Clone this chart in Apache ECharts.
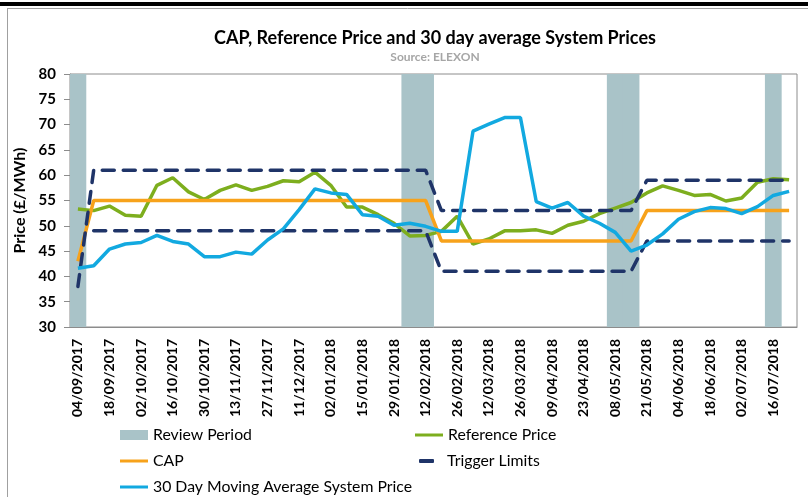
<!DOCTYPE html>
<html>
<head>
<meta charset="utf-8">
<title>CAP, Reference Price and 30 day average System Prices</title>
<script src="https://cdn.jsdelivr.net/npm/echarts@6/dist/echarts.min.js"></script>
<style>
    html, body {margin: 0; padding: 0; background: #fff;}
    #chartContainer {width: 808px; height: 497px;}
</style>
</head>
<body>
<div id="chartContainer"></div>
<script>
// weekly dates (every other one is labelled)
var dates = ["04/09/2017", "11/09/2017", "18/09/2017", "25/09/2017", "02/10/2017", "09/10/2017",
    "16/10/2017", "23/10/2017", "30/10/2017", "06/11/2017", "13/11/2017", "20/11/2017",
    "27/11/2017", "04/12/2017", "11/12/2017", "18/12/2017", "02/01/2018", "08/01/2018",
    "15/01/2018", "22/01/2018", "29/01/2018", "05/02/2018", "12/02/2018", "19/02/2018",
    "26/02/2018", "05/03/2018", "12/03/2018", "19/03/2018", "26/03/2018", "03/04/2018",
    "09/04/2018", "16/04/2018", "23/04/2018", "30/04/2018", "08/05/2018", "14/05/2018",
    "21/05/2018", "29/05/2018", "04/06/2018", "11/06/2018", "18/06/2018", "25/06/2018",
    "02/07/2018", "09/07/2018", "16/07/2018", "23/07/2018"];

var reviewPeriod = [80, null, null, null, null, null, null, null, null, null, null, null,
    null, null, null, null, null, null, null, null, null, 80, 80, null,
    null, null, null, null, null, null, null, null, null, null, 80, 80,
    null, null, null, null, null, null, null, null, 80, null];

var referencePrice = [53.3, 53.0, 53.9, 52.1, 51.9, 58.0, 59.5, 56.7, 55.2, 57.0, 58.1, 57.0,
    57.8, 58.9, 58.7, 60.6, 58.0, 53.7, 53.7, 52.2, 50.5, 48.0, 48.1, 48.9,
    51.9, 46.4, 47.4, 49.0, 49.0, 49.2, 48.5, 50.1, 50.9, 52.4, 53.5, 54.6,
    56.5, 57.9, 57.0, 56.0, 56.2, 54.9, 55.5, 58.6, 59.3, 59.1];

var cap = [43, 55, 55, 55, 55, 55, 55, 55, 55, 55, 55, 55,
    55, 55, 55, 55, 55, 55, 55, 55, 55, 55, 55, 47,
    47, 47, 47, 47, 47, 47, 47, 47, 47, 47, 47, 47,
    53, 53, 53, 53, 53, 53, 53, 53, 53, 53];

var triggerUpper = [38, 61, 61, 61, 61, 61, 61, 61, 61, 61, 61, 61,
    61, 61, 61, 61, 61, 61, 61, 61, 61, 61, 61, 53,
    53, 53, 53, 53, 53, 53, 53, 53, 53, 53, 53, 53,
    59, 59, 59, 59, 59, 59, 59, 59, 59, 59];

var triggerLower = [null, 49, 49, 49, 49, 49, 49, 49, 49, 49, 49, 49,
    49, 49, 49, 49, 49, 49, 49, 49, 49, 49, 49, 41,
    41, 41, 41, 41, 41, 41, 41, 41, 41, 41, 41, 41,
    47, 47, 47, 47, 47, 47, 47, 47, 47, 47];

var systemPrice = [41.6, 42.1, 45.4, 46.4, 46.7, 48.1, 46.9, 46.4, 43.9, 43.9, 44.8, 44.4,
    47.2, 49.4, 53.2, 57.3, 56.5, 56.2, 52.2, 51.9, 50.1, 50.5, 49.9, 48.9,
    48.9, 68.7, 70.1, 71.4, 71.4, 54.8, 53.5, 54.6, 51.9, 50.5, 48.7, 45.0,
    46.2, 48.4, 51.3, 52.8, 53.6, 53.4, 52.4, 53.8, 56.0, 56.8];

var fontName = "Lato, 'Open Sans', sans-serif";
var lineW = 3.5;

var priceChart = echarts.init(document.getElementById("chartContainer"));

// one legend box per item, so they sit in two columns like the original
function legendItem(name, left, top, icon, w, h, fmt) {
    return {
        left: left,
        top: top,
        icon: icon,
        itemWidth: w,
        itemHeight: h,
        formatter: fmt || "{name}",
        textStyle: {fontFamily: fontName, fontSize: 15.8, color: "#000"},
        data: [name]
    };
}

var option = {
    animation: false,
    backgroundColor: "#fff",
    textStyle: {fontFamily: fontName},
    title: {
        text: "CAP, Reference Price and 30 day average System Prices",
        subtext: "Source: ELEXON",
        left: 430,
        textAlign: "center",
        top: 24,
        itemGap: 4,
        textStyle: {fontFamily: fontName, fontSize: 18, fontWeight: "bold", color: "#000"},
        subtextStyle: {fontFamily: fontName, fontSize: 12, fontWeight: "bold", color: "#a6a6a6"}
    },
    // frame lines round the chart
    graphic: [
        {type: "rect", shape: {x: 0, y: 2, width: 808, height: 4}, style: {fill: "#000"}, silent: true},
        {type: "line", shape: {x1: 7, y1: 8.5, x2: 808, y2: 8.5}, style: {stroke: "#a0a0a0", lineWidth: 1}, silent: true},
        {type: "line", shape: {x1: 7.5, y1: 8, x2: 7.5, y2: 497}, style: {stroke: "#a0a0a0", lineWidth: 1}, silent: true}
    ],
    legend: [
        legendItem("Review Period", 115, 422, "rect", 28, 10),
        legendItem("CAP", 115, 448, "rect", 28, 3),
        legendItem("30 Day Moving Average System Price", 115, 474, "rect", 28, 3),
        legendItem("Reference Price", 410, 422, "rect", 28, 3),
        legendItem("Trigger Limits", 414, 448, "roundRect", 15, 4, "  {name}")
    ],
    grid: {
        left: 70,
        right: 11,
        top: 74,
        bottom: 170,
        show: true,
        borderColor: "#8c8c8c",
        borderWidth: 1
    },
    xAxis: {
        type: "category",
        data: dates,
        boundaryGap: true,
        axisLine: {lineStyle: {color: "#8c8c8c", width: 1}},
        axisTick: {interval: 0, length: 5, lineStyle: {color: "#8c8c8c"}},
        axisLabel: {
            interval: 1,
            rotate: 90,
            margin: 12,
            fontFamily: fontName,
            fontSize: 14,
            fontWeight: "bold",
            color: "#000"
        }
    },
    yAxis: {
        type: "value",
        min: 30,
        max: 80,
        interval: 5,
        name: "Price (£/MWh)",
        nameLocation: "middle",
        nameGap: 38,
        nameTextStyle: {fontFamily: fontName, fontSize: 16, fontWeight: "bold", color: "#000"},
        splitLine: {show: false},
        axisLine: {show: true, lineStyle: {color: "#8c8c8c", width: 1}},
        axisTick: {show: true, length: 6, lineStyle: {color: "#8c8c8c"}},
        axisLabel: {
            margin: 14,
            fontFamily: fontName,
            fontSize: 15,
            fontWeight: "bold",
            color: "#000"
        }
    },
    series: [
        {
            name: "Review Period",
            type: "bar",
            data: reviewPeriod,
            barWidth: "106%",
            itemStyle: {color: "#a9c3c8"},
            z: 1
        },
        {
            name: "Reference Price",
            type: "line",
            data: referencePrice,
            symbol: "none",
            lineStyle: {color: "#7dae1e", width: lineW},
            itemStyle: {color: "#7dae1e"},
            z: 3
        },
        {
            name: "CAP",
            type: "line",
            data: cap,
            symbol: "none",
            lineStyle: {color: "#f7a21b", width: lineW},
            itemStyle: {color: "#f7a21b"},
            z: 3
        },
        {
            name: "Trigger Limits",
            type: "line",
            data: triggerUpper,
            symbol: "none",
            lineStyle: {color: "#1f3468", width: 3.5, type: [12, 9], cap: "round"},
            itemStyle: {color: "#1f3468"},
            z: 3
        },
        {
            name: "Trigger Limits",
            type: "line",
            data: triggerLower,
            symbol: "none",
            lineStyle: {color: "#1f3468", width: 3.5, type: [12, 9], cap: "round"},
            itemStyle: {color: "#1f3468"},
            z: 3
        },
        {
            name: "30 Day Moving Average System Price",
            type: "line",
            data: systemPrice,
            symbol: "none",
            lineStyle: {color: "#12a9e0", width: lineW},
            itemStyle: {color: "#12a9e0"},
            z: 4
        }
    ]
};

priceChart.setOption(option);
</script>
</body>
</html>
